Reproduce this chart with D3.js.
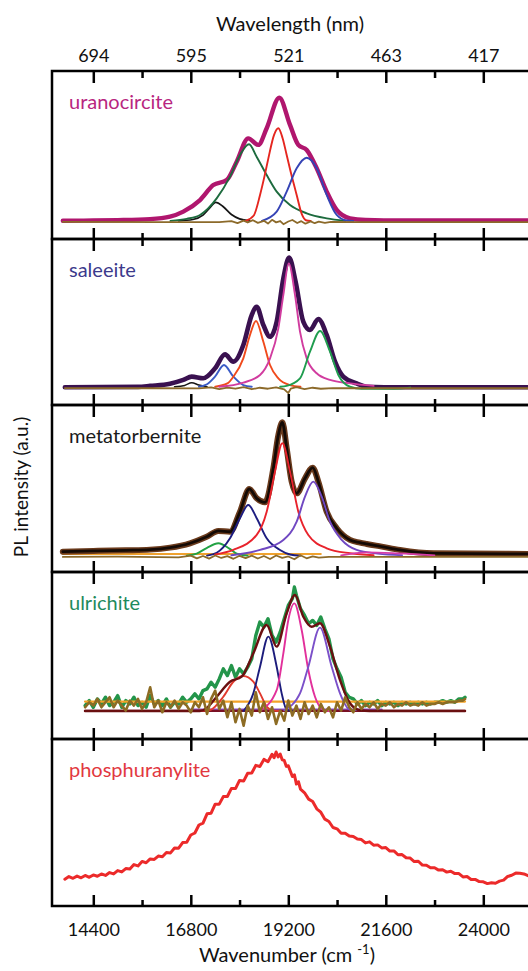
<!DOCTYPE html>
<html>
<head>
<meta charset="utf-8">
<script src="https://cdn.jsdelivr.net/npm/d3@7"></script>
<style>
  body { margin: 0; background: #fff; }
  svg { display: block; }
</style>
</head>
<body>
<div id="chart"></div>
<script>
// x axis: wavenumber (cm-1), top axis shows matching wavelengths (nm)
const majorTicks = [14400, 16800, 19200, 21600, 24000];
const minorTicks = [15600, 18000, 20400, 22800];
const wavelengthLabels = ["694", "595", "521", "463", "417"];
const mineralNames = ["uranocircite", "saleeite", "metatorbernite", "ulrichite", "phosphuranylite"];

// each series: [wavenumber, intensity in % of panel height]
// --- uranocircite
const uraTrace = [[13650,10.9],[14400,11],[15000,11.2],[15796,11.8],[16288,13.3],[16615,16.3],[17027,23.2],[17354,32.1],[17684,35.1],[17930,46],[18215,59.9],[18461,56],[18668,65.9],[18978,84.1],[19242,67.9],[19446,56],[19653,53],[19899,42.1],[20145,28.2],[20391,17.3],[20718,12.3],[21100,11.3],[22000,11],[25300,11]];
const uraBlack = [[16500,10.8],[16850,11.6],[17100,14.2],[17250,18],[17413,21.8],[17600,19.2],[17800,14.6],[18000,12],[18250,10.8]];
const uraGreen = [[16300,10.8],[16700,12],[17027,14.3],[17437,24.2],[17766,37.1],[18012,50],[18233,56.4],[18420,49],[18668,38.1],[18914,28.2],[19242,20.2],[19653,15.3],[20145,12.3],[20600,10.8]];
const uraRed = [[18150,10.8],[18350,14],[18504,26.2],[18620,38],[18709,48],[18850,62],[18955,65.9],[19060,60],[19160,50],[19300,36],[19406,26.2],[19530,15],[19653,11],[19750,10.8]];
const uraBlue = [[18550,10.8],[18914,16.3],[19160,28.2],[19406,42.1],[19653,48.4],[19899,42.1],[20145,26.2],[20391,14.3],[20637,11],[20800,10.8]];
const uraResid = [[13650,10.2],[16000,10.1],[17500,10],[17800,10.6],[17950,9.5],[18100,10.9],[18200,9.8],[18330,11.2],[18450,9.6],[18600,10.8],[18700,9.2],[18800,11.4],[18900,9.9],[19000,10.7],[19080,8.8],[19200,10.4],[19300,11.3],[19420,9.5],[19520,10.6],[19620,9.1],[19750,10.5],[19850,9.4],[19950,10.3],[20100,9.6],[20250,10.2],[21000,10.1],[25300,10.1]];

// --- saleeite
const salTrace = [[13700,10.7],[15500,10.9],[15800,11.5],[16288,12.8],[16615,15.1],[16822,17.1],[17108,16.1],[17396,22.1],[17642,30.5],[17847,26.1],[18093,36.1],[18299,54.2],[18422,59.2],[18586,48.2],[18750,41.1],[18914,50.2],[19078,76.3],[19220,88.8],[19380,74.3],[19569,50.2],[19734,45.2],[19939,51.8],[20145,42.2],[20350,26.1],[20554,17.1],[20883,13],[21130,11],[22000,10.7],[25300,10.7]];
const salBlack = [[16400,11],[16650,11.8],[16822,13.4],[17000,12],[17200,11]];
const salBlue = [[17000,11],[17200,12.5],[17396,17.1],[17617,24.1],[17847,17.1],[18093,12],[18300,11]];
const salOrange = [[17400,11],[17700,13],[17847,17],[18093,28.1],[18257,42.2],[18405,50.6],[18586,38.1],[18750,24.1],[18955,16.1],[19242,12],[19500,11]];
const salMagenta = [[17500,11],[18093,13.5],[18504,18.1],[18750,28.1],[18955,46.2],[19078,66.3],[19210,85.3],[19365,66.3],[19488,44.2],[19653,28.1],[19899,19.1],[20227,15.1],[20719,13],[21300,11.5]];
const salGreen = [[19000,11],[19160,11.5],[19488,16],[19734,32.1],[19981,44.6],[20227,32.1],[20432,18.1],[20719,11],[21000,9.8],[21800,9.8],[22200,10.5]];
const salResid = [[13700,10.2],[16000,10.1],[17000,10],[17300,10.6],[17500,9.6],[17700,10.5],[17900,9.8],[18100,10.7],[18300,9.5],[18500,10.4],[18700,9.8],[18900,10.6],[19100,9.4],[19200,7.2],[19260,9.8],[19400,10.8],[19600,9.6],[19800,10.4],[20000,9.8],[20300,10.2],[21000,10.1],[25300,10.1]];

// --- metatorbernite
const metTrace = [[13650,12.2],[14400,12.6],[15200,13],[15796,13.4],[16288,14.6],[16780,17.2],[17191,21.1],[17478,24.6],[17765,24.1],[18011,36.1],[18241,49.7],[18422,44.1],[18627,41.7],[18832,62.1],[18955,82],[19053,89.6],[19160,74.1],[19283,54.1],[19406,47.1],[19611,56.1],[19800,62.5],[19939,54.1],[20145,36.1],[20391,26.2],[20718,19.2],[20965,17.6],[21130,16.8],[21500,15.2],[21950,13.2],[22770,11.2],[25300,10.8]];
const metGreen = [[16700,9.8],[16945,11],[17200,14.5],[17478,17.2],[17750,14],[17930,11],[18200,9.8]];
const metNavy = [[17200,9.8],[17437,11.5],[17765,20.2],[18011,32.2],[18215,40.1],[18422,32.2],[18668,20.2],[18996,13.2],[19242,10.5],[19500,9.8]];
const metRed = [[17400,10.5],[17847,13.2],[18422,22.2],[18668,36.1],[18873,60.1],[19053,77.1],[19242,60.1],[19447,36.1],[19693,22.2],[20145,14.2],[20718,11.2],[21300,10]];
const metPurple = [[17800,10],[18504,13.2],[19078,19.2],[19406,30.1],[19611,45.1],[19815,54.1],[20022,45.1],[20227,30.1],[20514,19.2],[20883,13.2],[21400,11],[22000,10]];
const metMagenta = [[20500,10],[21130,11.8],[21900,11.2],[22800,10]];
const metOrange = [[13650,10.8],[20000,10.8]];
const metResid = [[13650,9],[15000,9.2],[16500,8.8],[16800,9.8],[16950,8.2],[17100,9.6],[17250,8],[17400,9.9],[17550,8.4],[17700,9.5],[17850,7.9],[18000,9.7],[18150,8.3],[18300,9.8],[18450,8.1],[18600,9.6],[18750,7.8],[18900,9.9],[19050,8.5],[19200,9.3],[19350,7.6],[19500,10],[19650,8.2],[19800,9.4],[19950,8.6],[20200,9.1],[21000,9],[25300,9]];

// --- ulrichite
const ulrData = [[14200,20],[14300,23],[14400,19],[14500,24],[14600,21],[14700,25],[14800,20],[14900,22],[15000,26],[15100,19],[15200,23],[15300,21],[15400,25],[15500,20],[15600,22],[15700,19],[15800,26],[15900,21],[16000,23],[16100,20],[16200,24],[16300,19],[16400,22],[16500,21],[16600,25],[16700,22],[16800,24],[16900,27],[17000,24],[17100,29],[17200,30],[17300,34],[17400,31],[17500,36],[17600,42],[17700,38],[17800,44],[17900,37],[18000,42],[18100,39],[18200,43],[18300,48],[18400,62],[18500,70],[18600,67],[18700,72],[18800,62],[18900,58],[19000,64],[19100,72],[19200,80],[19300,84],[19350,91],[19400,86],[19500,78],[19600,74],[19700,69],[19800,71],[19900,68],[20000,73],[20100,66],[20200,60],[20300,48],[20400,42],[20500,37],[20600,28],[20700,25],[20800,24],[20900,21],[21000,23],[21100,20],[21200,22],[21300,21],[21400,23],[21500,20],[21600,22],[21700,21],[21800,22],[21900,20],[22000,22],[22100,21],[22200,22],[22300,21],[22400,22],[22500,21],[22600,22],[22700,21],[22800,22],[22900,22],[23000,23],[23100,22],[23200,23],[23300,22],[23400,24],[23500,24],[23550,25]];
const ulrFit = [[14196,16.8],[17027,16.8],[17190,18.5],[17437,25.3],[17765,34.3],[18052,37.3],[18339,51.3],[18668,68.3],[18914,55.3],[19160,75.3],[19365,86.2],[19570,73.2],[19774,67.2],[19980,69.3],[20227,55.3],[20473,35.3],[20719,21.4],[20965,17.2],[21200,16.8],[23550,16.8]];
const ulrRed = [[16900,16.8],[17273,17.4],[17600,25.3],[17847,34.3],[18093,37.7],[18339,34.3],[18504,27.3],[18668,19.4],[18832,17],[19000,16.8]];
const ulrNavy = [[18100,16.8],[18339,27.3],[18504,43.3],[18709,61.3],[18914,43.3],[19037,27.3],[19160,17.5],[19300,16.8]];
const ulrMagenta = [[18500,16.8],[18914,29.3],[19078,51.3],[19201,71.3],[19348,81.2],[19529,65.3],[19693,41.3],[19857,25.3],[20062,17.5],[20200,16.8]];
const ulrPurple = [[19100,17.3],[19488,27.3],[19693,43.3],[19980,66.7],[20268,43.3],[20473,27.3],[20719,17.5],[20900,17.3]];
const ulrOrange = [[14196,22.4],[23550,22.4]];
const ulrBase = [[14196,16.8],[23550,16.8]];
const ulrLow = [[16800,17.6],[21500,17.6]];
const ulrResid = [[14200,19],[14300,22],[14400,20],[14500,24],[14600,19],[14700,22],[14800,25],[14900,19],[15000,23],[15100,20],[15200,17],[15300,23],[15400,20],[15500,24],[15600,18],[15700,22],[15800,31],[15900,19],[16000,23],[16100,16],[16200,22],[16300,19],[16400,23],[16500,18],[16600,22],[16700,20],[16800,16],[16900,22],[17000,19],[17100,25],[17200,15],[17300,24],[17400,29],[17500,18],[17600,23],[17700,13],[17800,22],[17900,10],[18000,18],[18100,8],[18200,20],[18300,14],[18400,28],[18500,16],[18600,22],[18700,12],[18800,19],[18900,9],[19000,17],[19100,11],[19200,23],[19300,14],[19400,20],[19500,12],[19600,22],[19700,15],[19800,20],[19900,13],[20000,21],[20100,16],[20200,19],[20300,13],[20400,22],[20500,17],[20600,25],[20700,19],[20800,16],[20900,22],[21000,18],[21100,21],[21200,19],[21300,22],[21400,18],[21500,21],[21600,20],[21700,22],[21800,19],[21900,21],[22000,20],[22100,22],[22200,20],[22300,21],[22400,20],[22500,22],[22600,20],[22700,21],[22800,21],[22900,22],[23000,21],[23100,22],[23200,22],[23300,22],[23400,23],[23500,23],[23550,24]];

// --- phosphuranylite
const phosData = [[13700,16.0],[13800,17.6],[13900,16.6],[14000,17.9],[14100,16.9],[14200,18.3],[14300,17.2],[14400,18.6],[14500,17.8],[14600,19.2],[14700,18.3],[14800,20.0],[14900,19.2],[15000,21.2],[15100,20.4],[15200,22.4],[15300,22.1],[15400,24.8],[15500,24.0],[15600,26.7],[15700,25.9],[15800,28.2],[15900,27.9],[16000,29.9],[16100,29.5],[16200,32.0],[16300,31.8],[16400,34.7],[16500,34.6],[16600,38.0],[16700,38.2],[16800,42.5],[16900,43.7],[17000,48.5],[17100,49.6],[17200,55.2],[17300,55.6],[17400,61.0],[17500,61.0],[17600,65.5],[17700,65.6],[17800,70.4],[17900,70.3],[18000,75.2],[18100,74.8],[18200,79.5],[18300,79.6],[18400,84.2],[18500,83.5],[18600,87.8],[18700,86.4],[18800,90.9],[18850,88.8],[18900,92.2],[18950,89.3],[19000,91.0],[19050,87.6],[19100,87.2],[19150,83.6],[19200,84.0],[19300,77.5],[19350,78.6],[19400,73.0],[19450,74.4],[19500,70.0],[19600,67.8],[19700,64.0],[19800,62.6],[19900,58.2],[20000,56.2],[20100,52.0],[20200,50.6],[20300,47.0],[20400,46.2],[20500,43.6],[20600,43.6],[20700,41.9],[20800,41.6],[20900,40.1],[21000,39.8],[21100,37.8],[21200,38.4],[21300,36.4],[21400,36.6],[21500,34.8],[21600,35.0],[21700,32.9],[21800,33.0],[21900,30.7],[22000,30.8],[22100,28.9],[22200,28.7],[22300,26.6],[22400,26.8],[22500,24.5],[22600,24.4],[22700,22.9],[22800,22.9],[22900,21.5],[23000,21.7],[23100,20.3],[23200,20.8],[23300,19.4],[23400,19.4],[23500,17.4],[23600,17.7],[23700,15.9],[23800,15.9],[23900,14.6],[24000,14.5],[24100,13.4],[24200,13.9],[24300,13.6],[24400,14.9],[24500,15.5],[24600,17.7],[24700,18.4],[24800,19.7],[24900,19.6],[25000,19.2],[25100,18.2]];

const panels = [
  { color: "#b8267f", series: [
    { data: uraTrace, color: "#b0166e", width: 4.4, smooth: true },
    { data: uraBlack, color: "#151515", width: 1.7, smooth: true },
    { data: uraGreen, color: "#1d6b3e", width: 1.9, smooth: true },
    { data: uraRed, color: "#e5261f", width: 1.9, smooth: true },
    { data: uraBlue, color: "#3543b5", width: 1.9, smooth: true },
    { data: uraResid, color: "#8c6a2a", width: 1.8, smooth: false } ] },
  { color: "#3c3a8c", series: [
    { data: salTrace, color: "#3a1150", width: 4.6, smooth: true },
    { data: salBlack, color: "#151515", width: 1.5, smooth: true },
    { data: salBlue, color: "#3b5cc6", width: 1.9, smooth: true },
    { data: salOrange, color: "#f04a1c", width: 1.9, smooth: true },
    { data: salMagenta, color: "#d13c9f", width: 1.9, smooth: true },
    { data: salGreen, color: "#1f9d4f", width: 1.9, smooth: true },
    { data: salResid, color: "#8c6a2a", width: 1.8, smooth: false } ] },
  { color: "#1a1a1a", series: [
    { data: metOrange, color: "#f0a22e", width: 2, smooth: false },
    { data: metTrace, color: "#6a3a1c", width: 6, smooth: true },
    { data: metTrace, color: "#140a05", width: 2.8, smooth: true },
    { data: metGreen, color: "#22a244", width: 1.9, smooth: true },
    { data: metNavy, color: "#1d1d80", width: 1.9, smooth: true },
    { data: metRed, color: "#e8232c", width: 1.9, smooth: true },
    { data: metPurple, color: "#7048c2", width: 1.9, smooth: true },
    { data: metMagenta, color: "#d63ca8", width: 1.7, smooth: true },
    { data: metResid, color: "#8c6a2a", width: 1.8, smooth: false } ] },
  { color: "#1e8a5c", series: [
    { data: ulrData, color: "#23954a", width: 3.4, smooth: false },
    { data: ulrOrange, color: "#f3a228", width: 2.2, smooth: false },
    { data: ulrLow, color: "#8a4fc8", width: 2, smooth: false },
    { data: ulrBase, color: "#7a1024", width: 2.2, smooth: false },
    { data: ulrRed, color: "#e13a2e", width: 1.9, smooth: true },
    { data: ulrNavy, color: "#1c1c7c", width: 1.9, smooth: true },
    { data: ulrMagenta, color: "#e2309b", width: 1.9, smooth: true },
    { data: ulrPurple, color: "#7b50c9", width: 1.9, smooth: true },
    { data: ulrFit, color: "#6a0f10", width: 2.4, smooth: true },
    { data: ulrResid, color: "#8d6c24", width: 2.6, smooth: false } ] },
  { color: "#e2383f", series: [
    { data: phosData, color: "#ec2a2a", width: 3, smooth: false } ] }
];

const width = 528;
const height = 971;
const frameLeft = 52;
const frameRight = 545;
const panelTops = [71, 239, 405, 572, 739];
const panelBottom = 906;
const font = "Lato, 'Liberation Sans', sans-serif";

const svg = d3.select("#chart")
              .append("svg")
              .attr("width", width)
              .attr("height", height)
              .attr("font-family", font);

const x = d3.scaleLinear()
            .domain([14400, 24000])
            .range([93.3, 483.3]);

panels.forEach((p, i) => {
  const top = panelTops[i];
  const bottom = i < panelTops.length - 1 ? panelTops[i + 1] : panelBottom;

  const y = d3.scaleLinear()
              .domain([0, 100])
              .range([bottom, top]);

  const g = svg.append("g");

  g.append("clipPath")
   .attr("id", "clip" + i)
   .append("rect")
   .attr("x", frameLeft + 1)
   .attr("y", top + 1)
   .attr("width", frameRight - frameLeft)
   .attr("height", bottom - top - 2);

  const plot = g.append("g").attr("clip-path", `url(#clip${i})`);

  p.series.forEach(s => {
    const line = d3.line()
                   .x(d => x(d[0]))
                   .y(d => y(d[1]))
                   .curve(s.smooth ? d3.curveMonotoneX : d3.curveLinear);
    plot.append("path")
        .datum(s.data)
        .attr("d", line)
        .attr("fill", "none")
        .attr("stroke", s.color)
        .attr("stroke-width", s.width)
        .attr("stroke-linejoin", "round")
        .attr("stroke-linecap", "round");
  });

  g.append("text")
   .attr("x", 69)
   .attr("y", top + 38)
   .attr("font-size", 20)
   .attr("fill", p.color)
   .text(mineralNames[i]);

  // ticks point inward on top and bottom edge of each panel
  const topMajor = g.append("g")
     .attr("transform", `translate(0,${top})`)
     .call(d3.axisTop(x).tickValues(majorTicks).tickSize(-12).tickPadding(9.5)
             .tickFormat((d, k) => i === 0 ? wavelengthLabels[k] : ""));
  const topMinor = g.append("g")
     .attr("transform", `translate(0,${top})`)
     .call(d3.axisTop(x).tickValues(minorTicks).tickSize(-7).tickFormat(""));
  const botMajor = g.append("g")
     .attr("transform", `translate(0,${bottom})`)
     .call(d3.axisBottom(x).tickValues(majorTicks).tickSize(-11).tickPadding(17.5)
             .tickFormat(d => i === panels.length - 1 ? d : ""));
  const botMinor = g.append("g")
     .attr("transform", `translate(0,${bottom})`)
     .call(d3.axisBottom(x).tickValues(minorTicks).tickSize(-6).tickFormat(""));

  [topMajor, topMinor, botMajor, botMinor].forEach(a => {
    a.select(".domain").remove();
    a.attr("font-family", font).attr("font-size", 18);
    a.selectAll("line").attr("stroke", "#000").attr("stroke-width", 2.5);
    a.selectAll("text").attr("fill", "#111");
  });

  g.append("rect")
   .attr("x", frameLeft)
   .attr("y", top)
   .attr("width", frameRight - frameLeft)
   .attr("height", bottom - top)
   .attr("fill", "none")
   .attr("stroke", "#000")
   .attr("stroke-width", 2.5);
});

svg.append("text")
   .attr("x", 290)
   .attr("y", 31)
   .attr("text-anchor", "middle")
   .attr("font-size", 20)
   .attr("fill", "#111")
   .text("Wavelength (nm)");

const xTitle = svg.append("text")
   .attr("x", 287)
   .attr("y", 962)
   .attr("text-anchor", "middle")
   .attr("font-size", 20)
   .attr("fill", "#111");
xTitle.append("tspan").text("Wavenumber (cm ");
xTitle.append("tspan").attr("font-size", 13).attr("dy", -8).text("-1");
xTitle.append("tspan").attr("dy", 8).text(")");

svg.append("text")
   .attr("transform", "translate(28,487) rotate(-90)")
   .attr("text-anchor", "middle")
   .attr("font-size", 19)
   .attr("fill", "#111")
   .text("PL intensity (a.u.)");
</script>
</body>
</html>
